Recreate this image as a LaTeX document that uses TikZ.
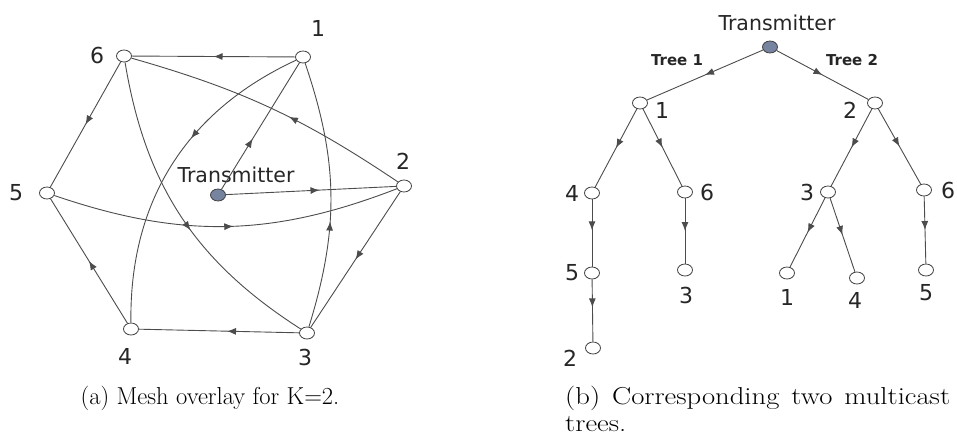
\documentclass[tikz,border=0pt]{standalone}
\usepackage{fontspec}
\newfontfamily\dejavu{DejaVu Sans}
\usetikzlibrary{shapes.geometric,arrows.meta,decorations.markings}
\definecolor{txfill}{RGB}{118,132,160}

\begin{document}
\begin{tikzpicture}[x=1pt,y=-1pt,
  peer/.style={draw=black!75,ellipse,minimum width=15pt,minimum height=12pt,inner sep=0pt,fill=white,line width=0.8pt},
  src/.style={peer,fill=txfill},
  lbl/.style={font=\dejavu\fontsize{22}{22}\selectfont,text=black!85,inner sep=0pt},
  txlbl/.style={lbl,font=\dejavu\fontsize{20.5}{20.5}\selectfont},
  tree/.style={font=\dejavu\bfseries\fontsize{15}{15}\selectfont,text=black!85,inner sep=0pt},
  captext/.style={font=\fontsize{24.5}{28}\selectfont,inner sep=0pt},
  link/.style={draw=black!70,line width=0.9pt},
  midarrow/.style={postaction={decorate},decoration={markings,mark=at position #1 with {\arrow{Latex[length=9pt,width=7pt]}}}},
  midarrow/.default=0.5]
\useasboundingbox (0,0) rectangle (957,439);
%\draw[help lines] (0,0) grid[step=50] (957,439);

% (a) mesh overlay
\node[peer] (m1) at (303,57) {};
\node[peer] (m2) at (404,186) {};
\node[peer] (m3) at (307,333) {};
\node[peer] (m4) at (131,329) {};
\node[peer] (m5) at (47,193) {};
\node[peer] (m6) at (124,56) {};
\node[src] (tx) at (218,195) {};
\node[lbl] (n1) at (318,28) {1};
\node[lbl] (n2) at (403,161) {2};
\node[lbl] (n3) at (305,357) {3};
\node[lbl] (n4) at (125,356) {4};
\node[lbl] (n5) at (16,193) {5};
\node[lbl] (n6) at (97,55) {6};
\node[txlbl] (ntx) at (236,175) {Transmitter};

\draw[link,midarrow] (m1) -- (m6);
\draw[link,midarrow] (m6) -- (m5);
\draw[link,midarrow] (m4) -- (m5);
\draw[link,midarrow=0.45] (m3) -- (m4);
\draw[link,midarrow] (m2) -- (m3);
\draw[link,midarrow=0.43] (m2) to[bend right=9] (m6);
\draw[link,midarrow=0.4] (m3) to[bend right=18] (m1);
\draw[link,midarrow=0.4] (m1) to[bend right=33] (m4);
\draw[link,midarrow=0.55] (m6) to[bend right=24] (m3);
\draw[link,midarrow=0.52] (m5) to[bend right=20] (m2);
\draw[link,midarrow=0.4] (tx) -- (m1);
\draw[link,midarrow=0.55] (tx) -- (m2);

% (b) the two trees
\node[src] (tt) at (770,47) {};
\node[peer] (a1) at (640,103) {};
\node[peer] (a4) at (592,193) {};
\node[peer] (a5) at (592,273) {};
\node[peer] (a2) at (593,348) {};
\node[peer] (a6) at (685,192) {};
\node[peer] (a3) at (685,270) {};
\node[peer] (b2) at (875,103) {};
\node[peer] (b3) at (828,192) {};
\node[peer] (b6) at (924,190) {};
\node[peer] (b1) at (787,273) {};
\node[peer] (b4) at (857,278) {};
\node[peer] (b5) at (926,270) {};
\node[txlbl] (ntt) at (777,23) {Transmitter};
\node[tree] (t1) at (677,60) {Tree 1};
\node[tree] (t2) at (852,60) {Tree 2};
\node[lbl] (la1) at (662,110) {1};
\node[lbl] (la4) at (572,193) {4};
\node[lbl] (la5) at (572,273) {5};
\node[lbl] (la2) at (570,358) {2};
\node[lbl] (la6) at (707,192) {6};
\node[lbl] (la3) at (686,295) {3};
\node[lbl] (lb2) at (850,110) {2};
\node[lbl] (lb3) at (807,192) {3};
\node[lbl] (lb6) at (948,190) {6};
\node[lbl] (lb1) at (787,297) {1};
\node[lbl] (lb4) at (855,300) {4};
\node[lbl] (lb5) at (926,293) {5};

\draw[link,midarrow] (tt) -- (a1);
\draw[link,midarrow] (a1) -- (a4);
\draw[link,midarrow] (a1) -- (a6);
\draw[link,midarrow=0.46] (a4) -- (a5);
\draw[link,midarrow=0.45] (a5) -- (a2);
\draw[link,midarrow] (a6) -- (a3);
\draw[link,midarrow] (tt) -- (b2);
\draw[link,midarrow] (b2) -- (b3);
\draw[link,midarrow] (b2) -- (b6);
\draw[link,midarrow] (b3) -- (b1);
\draw[link,midarrow] (b3) -- (b4);
\draw[link,midarrow] (b6) -- (b5);

% captions
\node[captext,anchor=base] (capa) at (210,404) {(a) Mesh overlay for K=2.};
\node[captext,anchor=base west] (capb) at (565,404) {\scalebox{1.17}[1]{\makebox[329pt][s]{(b) Corresponding two multicast}}};
\node[captext,anchor=base west] (capc) at (565,431) {\scalebox{1.17}[1]{trees.}};
\end{tikzpicture}
\end{document}
